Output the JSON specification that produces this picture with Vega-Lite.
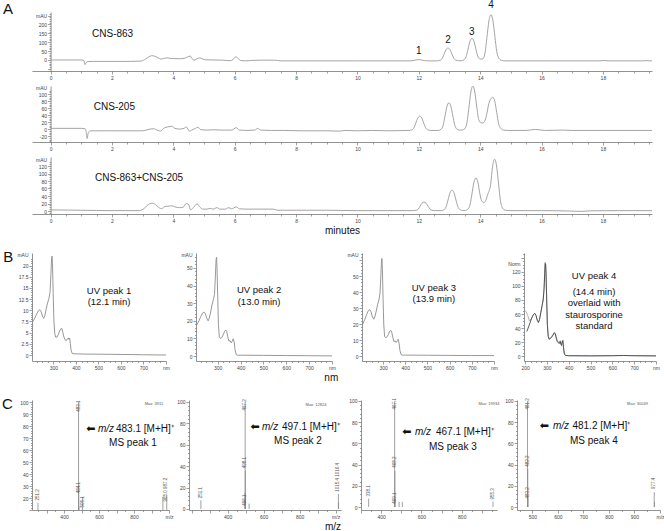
{
  "$schema": "https://vega.github.io/schema/vega-lite/v6.json",
  "background": "white",
  "padding": {"left": 1, "top": 0, "right": 0, "bottom": 0},
  "config": {
    "view": {"stroke": null},
    "font": "Liberation Sans",
    "axis": {"grid": false, "labelFontSize": 5, "labelColor": "#444", "labelFont": "Liberation Sans", "tickColor": "#777", "domainColor": "#777", "domainWidth": 0.8, "tickWidth": 0.7, "tickSize": 3, "labelPadding": 1, "labelOverlap": false, "labelFlush": false, "titleFontSize": 5, "titleFontWeight": "normal", "titleColor": "#444", "titleFont": "Liberation Sans"},
    "text": {"font": "Liberation Sans", "color": "#111"},
    "title": {"font": "Liberation Sans", "fontWeight": "normal", "color": "#111"}
  },
  "datasets": {
    "A1": [{"t":0,"v":0},{"t":0.5,"v":0},{"t":1.0,"v":0},{"t":1.08,"v":-2},{"t":1.12,"v":-26},{"t":1.16,"v":-14},{"t":1.22,"v":-9},{"t":1.4,"v":-8},{"t":2.0,"v":-8},{"t":2.6,"v":-8},{"t":2.95,"v":-6},{"t":3.1,"v":6},{"t":3.2,"v":18},{"t":3.3,"v":24},{"t":3.4,"v":21},{"t":3.5,"v":12},{"t":3.6,"v":5},{"t":3.7,"v":9},{"t":3.8,"v":12},{"t":3.9,"v":9},{"t":4.0,"v":8},{"t":4.2,"v":7},{"t":4.35,"v":9},{"t":4.45,"v":16},{"t":4.55,"v":22},{"t":4.62,"v":6},{"t":4.67,"v":-2},{"t":4.75,"v":5},{"t":4.85,"v":12},{"t":4.95,"v":6},{"t":5.05,"v":1},{"t":5.3,"v":0},{"t":5.6,"v":-1},{"t":5.85,"v":-4},{"t":5.95,"v":3},{"t":6.03,"v":18},{"t":6.1,"v":10},{"t":6.2,"v":-3},{"t":6.35,"v":-5},{"t":6.6,"v":-2},{"t":6.9,"v":-1},{"t":7.3,"v":-1},{"t":7.5,"v":-5},{"t":8.0,"v":-5},{"t":9.0,"v":-5},{"t":10.0,"v":-5},{"t":11.0,"v":-5},{"t":11.65,"v":-5},{"t":11.74,"v":-4.7},{"t":11.81,"v":-3.7},{"t":11.87,"v":-1.5},{"t":11.935,"v":1},{"t":12.0,"v":2},{"t":12.065,"v":1},{"t":12.13,"v":-1.5},{"t":12.19,"v":-3.6},{"t":12.26,"v":-4.6},{"t":12.35,"v":-5},{"t":12.6,"v":-5},{"t":12.69,"v":-2},{"t":12.76,"v":8},{"t":12.82,"v":31},{"t":12.885,"v":57},{"t":12.95,"v":67},{"t":13.015,"v":58},{"t":13.08,"v":33},{"t":13.14,"v":10},{"t":13.21,"v":-1},{"t":13.3,"v":-4},{"t":13.38,"v":-4},{"t":13.47,"v":1},{"t":13.54,"v":18},{"t":13.6,"v":58},{"t":13.665,"v":104},{"t":13.73,"v":122},{"t":13.795,"v":106},{"t":13.86,"v":62},{"t":13.92,"v":22},{"t":13.99,"v":6},{"t":14.05,"v":5},{"t":14.1,"v":8},{"t":14.16,"v":42},{"t":14.22,"v":125},{"t":14.285,"v":219},{"t":14.35,"v":255},{"t":14.415,"v":222},{"t":14.48,"v":132},{"t":14.54,"v":48},{"t":14.61,"v":10},{"t":14.7,"v":-2},{"t":14.8,"v":-5},{"t":15.5,"v":-5},{"t":16.5,"v":-5},{"t":17.9,"v":-5},{"t":18.03,"v":-3},{"t":18.2,"v":-5},{"t":19.3,"v":-5},{"t":19.4,"v":-3.5},{"t":19.5,"v":-5},{"t":19.6,"v":-5}],
    "A2": [{"t":0,"v":2},{"t":1.0,"v":2},{"t":1.12,"v":1},{"t":1.16,"v":-8},{"t":1.19,"v":-27},{"t":1.23,"v":-10},{"t":1.3,"v":-5},{"t":2.0,"v":-5},{"t":3.0,"v":-5},{"t":3.15,"v":-2},{"t":3.35,"v":1},{"t":3.5,"v":-4},{"t":3.58,"v":-6},{"t":3.7,"v":3},{"t":3.82,"v":6},{"t":3.95,"v":8},{"t":4.05,"v":2},{"t":4.2,"v":0},{"t":4.35,"v":2},{"t":4.43,"v":6},{"t":4.52,"v":-6},{"t":4.6,"v":-3},{"t":4.72,"v":2},{"t":4.8,"v":5},{"t":4.9,"v":-2},{"t":5.1,"v":-3},{"t":5.3,"v":-2},{"t":5.6,"v":-3},{"t":5.9,"v":-3},{"t":6.05,"v":4},{"t":6.15,"v":-3},{"t":6.4,"v":-4},{"t":6.65,"v":-3},{"t":6.75,"v":2},{"t":6.85,"v":-3},{"t":7.2,"v":-4},{"t":7.6,"v":-4},{"t":8.2,"v":-5},{"t":9.0,"v":-5},{"t":9.4,"v":-6},{"t":9.6,"v":-4},{"t":10.0,"v":-5},{"t":10.5,"v":-4},{"t":11.0,"v":-5},{"t":11.68,"v":-4},{"t":11.77,"v":-2.4},{"t":11.84,"v":3.4},{"t":11.9,"v":16.5},{"t":11.965,"v":31},{"t":12.03,"v":37},{"t":12.095,"v":32},{"t":12.16,"v":17},{"t":12.22,"v":4},{"t":12.29,"v":-2},{"t":12.38,"v":-4},{"t":12.63,"v":-4},{"t":12.72,"v":-1},{"t":12.79,"v":10},{"t":12.85,"v":35},{"t":12.915,"v":64},{"t":12.98,"v":75},{"t":13.045,"v":65},{"t":13.11,"v":37},{"t":13.17,"v":12},{"t":13.24,"v":0},{"t":13.33,"v":-3},{"t":13.41,"v":-3},{"t":13.5,"v":1},{"t":13.57,"v":19},{"t":13.63,"v":59},{"t":13.695,"v":105},{"t":13.76,"v":123},{"t":13.825,"v":106},{"t":13.89,"v":63},{"t":13.95,"v":28},{"t":14.02,"v":18},{"t":14.08,"v":17},{"t":14.16,"v":25},{"t":14.22,"v":45},{"t":14.28,"v":72},{"t":14.345,"v":86},{"t":14.41,"v":91},{"t":14.475,"v":80},{"t":14.54,"v":47},{"t":14.6,"v":16},{"t":14.67,"v":2},{"t":14.76,"v":-3},{"t":14.9,"v":-4},{"t":15.5,"v":-4},{"t":15.8,"v":-1},{"t":16.1,"v":-4},{"t":16.7,"v":-3},{"t":17.0,"v":-4},{"t":18.0,"v":-4},{"t":19.6,"v":-4}],
    "A3": [{"t":0,"v":3},{"t":1.0,"v":2},{"t":2.0,"v":1},{"t":2.9,"v":1},{"t":3.05,"v":7},{"t":3.18,"v":17},{"t":3.3,"v":21},{"t":3.42,"v":17},{"t":3.55,"v":8},{"t":3.62,"v":6},{"t":3.72,"v":12},{"t":3.85,"v":13},{"t":3.95,"v":14},{"t":4.05,"v":11},{"t":4.2,"v":9},{"t":4.32,"v":10},{"t":4.42,"v":20},{"t":4.5,"v":17},{"t":4.56,"v":3},{"t":4.65,"v":9},{"t":4.77,"v":19},{"t":4.87,"v":10},{"t":4.95,"v":5},{"t":5.1,"v":5},{"t":5.2,"v":7},{"t":5.3,"v":5},{"t":5.42,"v":9},{"t":5.52,"v":5},{"t":5.7,"v":5},{"t":5.8,"v":9},{"t":5.9,"v":6},{"t":6.05,"v":11},{"t":6.15,"v":6},{"t":6.4,"v":5},{"t":7.25,"v":5},{"t":7.4,"v":2},{"t":8.0,"v":2},{"t":9.0,"v":2},{"t":10.0,"v":1},{"t":11.0,"v":1},{"t":11.82,"v":1},{"t":11.91,"v":1.9},{"t":11.98,"v":5},{"t":12.04,"v":12.5},{"t":12.105,"v":21},{"t":12.17,"v":24},{"t":12.235,"v":21},{"t":12.3,"v":13},{"t":12.36,"v":5.6},{"t":12.43,"v":2.1},{"t":12.52,"v":1.2},{"t":12.73,"v":1},{"t":12.82,"v":3.2},{"t":12.89,"v":11},{"t":12.95,"v":28.5},{"t":13.015,"v":48},{"t":13.08,"v":56},{"t":13.145,"v":49},{"t":13.21,"v":29.6},{"t":13.27,"v":12},{"t":13.34,"v":3.7},{"t":13.43,"v":1.5},{"t":13.51,"v":1.5},{"t":13.6,"v":5},{"t":13.67,"v":16.7},{"t":13.73,"v":44.5},{"t":13.795,"v":76},{"t":13.86,"v":88},{"t":13.925,"v":77},{"t":13.99,"v":46},{"t":14.05,"v":27},{"t":14.12,"v":22},{"t":14.18,"v":28},{"t":14.25,"v":45},{"t":14.34,"v":70},{"t":14.405,"v":119},{"t":14.47,"v":138},{"t":14.535,"v":120},{"t":14.6,"v":72},{"t":14.66,"v":28},{"t":14.73,"v":8},{"t":14.82,"v":2},{"t":15.0,"v":1},{"t":16.0,"v":1},{"t":16.9,"v":0},{"t":17.3,"v":-1},{"t":17.6,"v":0.5},{"t":18.5,"v":1},{"t":19.6,"v":1}],
    "B1": [{"nm":205,"a":7.3},{"nm":210,"a":7.6},{"nm":218,"a":8.3},{"nm":226,"a":9.2},{"nm":234,"a":9.9},{"nm":240,"a":10.1},{"nm":246,"a":9.6},{"nm":252,"a":8.6},{"nm":257,"a":8.2},{"nm":262,"a":8.8},{"nm":268,"a":10.3},{"nm":274,"a":11.6},{"nm":280,"a":12.6},{"nm":285,"a":14},{"nm":289,"a":18},{"nm":292,"a":21.6},{"nm":294,"a":22.1},{"nm":296,"a":20.5},{"nm":299,"a":14},{"nm":302,"a":8},{"nm":306,"a":4.8},{"nm":310,"a":4.0},{"nm":316,"a":4.0},{"nm":322,"a":4.6},{"nm":328,"a":5.4},{"nm":334,"a":5.9},{"nm":338,"a":5.9},{"nm":342,"a":5.0},{"nm":347,"a":4.0},{"nm":352,"a":3.4},{"nm":357,"a":3.2},{"nm":362,"a":3.6},{"nm":366,"a":3.8},{"nm":369,"a":3.5},{"nm":372,"a":3.8},{"nm":375,"a":2.6},{"nm":379,"a":1.0},{"nm":384,"a":0.3},{"nm":400,"a":0.25},{"nm":450,"a":0.2},{"nm":500,"a":0.18},{"nm":550,"a":0.15},{"nm":600,"a":0.12},{"nm":650,"a":0.1},{"nm":700,"a":0.05},{"nm":750,"a":0.02},{"nm":800,"a":0.0}],
    "B2": [{"nm":205,"a":17},{"nm":210,"a":18},{"nm":218,"a":20},{"nm":226,"a":22.5},{"nm":234,"a":24.5},{"nm":240,"a":25},{"nm":246,"a":24},{"nm":252,"a":21.5},{"nm":258,"a":20},{"nm":263,"a":21.5},{"nm":269,"a":25},{"nm":275,"a":29},{"nm":281,"a":32},{"nm":286,"a":35},{"nm":290,"a":46},{"nm":293,"a":55},{"nm":295,"a":56},{"nm":297,"a":50},{"nm":300,"a":34},{"nm":303,"a":18},{"nm":307,"a":11},{"nm":312,"a":10},{"nm":318,"a":10.5},{"nm":324,"a":12},{"nm":330,"a":14},{"nm":335,"a":14.8},{"nm":339,"a":14},{"nm":344,"a":11},{"nm":349,"a":8.5},{"nm":354,"a":8.8},{"nm":359,"a":7.5},{"nm":364,"a":8.5},{"nm":368,"a":9.8},{"nm":372,"a":8},{"nm":376,"a":3.5},{"nm":381,"a":0.8},{"nm":386,"a":0.5},{"nm":400,"a":0.5},{"nm":500,"a":0.4},{"nm":600,"a":0.3},{"nm":700,"a":0.2},{"nm":800,"a":0.1}],
    "B3": [{"nm":205,"a":19},{"nm":210,"a":20.5},{"nm":218,"a":23},{"nm":226,"a":26},{"nm":234,"a":28.5},{"nm":240,"a":29},{"nm":246,"a":27.5},{"nm":252,"a":24.5},{"nm":258,"a":23},{"nm":263,"a":24.5},{"nm":269,"a":28},{"nm":275,"a":32},{"nm":281,"a":35},{"nm":286,"a":39},{"nm":290,"a":50},{"nm":293,"a":60},{"nm":295,"a":61},{"nm":297,"a":54},{"nm":300,"a":36},{"nm":303,"a":20},{"nm":307,"a":12},{"nm":312,"a":11.5},{"nm":318,"a":12},{"nm":324,"a":13.5},{"nm":330,"a":15.5},{"nm":335,"a":16},{"nm":339,"a":15},{"nm":344,"a":11.5},{"nm":349,"a":9},{"nm":354,"a":9.5},{"nm":359,"a":8.5},{"nm":364,"a":9.5},{"nm":368,"a":10.5},{"nm":372,"a":8},{"nm":376,"a":3.5},{"nm":381,"a":1},{"nm":386,"a":0.6},{"nm":400,"a":0.6},{"nm":500,"a":0.5},{"nm":600,"a":0.4},{"nm":700,"a":0.3},{"nm":800,"a":0.3}],
    "B4": [{"s":"std","nm":200,"a":65},{"s":"std","nm":205,"a":63},{"s":"std","nm":212,"a":58},{"s":"std","nm":220,"a":50},{"s":"std","nm":228,"a":53},{"s":"std","nm":236,"a":58},{"s":"std","nm":244,"a":61},{"s":"std","nm":250,"a":58},{"s":"std","nm":256,"a":51},{"s":"std","nm":261,"a":48},{"s":"std","nm":266,"a":52},{"s":"std","nm":272,"a":62},{"s":"std","nm":278,"a":72},{"s":"std","nm":283,"a":82},{"s":"std","nm":287,"a":98},{"s":"std","nm":290,"a":120},{"s":"std","nm":292,"a":134},{"s":"std","nm":294,"a":132},{"s":"std","nm":296,"a":120},{"s":"std","nm":299,"a":82},{"s":"std","nm":302,"a":46},{"s":"std","nm":306,"a":29},{"s":"std","nm":310,"a":25},{"s":"std","nm":316,"a":26},{"s":"std","nm":322,"a":28},{"s":"std","nm":328,"a":31},{"s":"std","nm":334,"a":34},{"s":"std","nm":338,"a":33},{"s":"std","nm":342,"a":28},{"s":"std","nm":347,"a":22},{"s":"std","nm":352,"a":20},{"s":"std","nm":357,"a":19},{"s":"std","nm":361,"a":22},{"s":"std","nm":364,"a":18},{"s":"std","nm":367,"a":16},{"s":"std","nm":370,"a":21},{"s":"std","nm":373,"a":23},{"s":"std","nm":376,"a":13},{"s":"std","nm":380,"a":3},{"s":"std","nm":385,"a":1},{"s":"std","nm":400,"a":0.6},{"s":"std","nm":500,"a":0.4},{"s":"std","nm":600,"a":0.6},{"s":"std","nm":650,"a":1},{"s":"std","nm":700,"a":0.6},{"s":"std","nm":800,"a":0.4},
      {"s":"peak","nm":208,"a":35},{"s":"peak","nm":214,"a":40},{"s":"peak","nm":222,"a":47},{"s":"peak","nm":230,"a":54},{"s":"peak","nm":238,"a":59},{"s":"peak","nm":244,"a":61},{"s":"peak","nm":250,"a":58},{"s":"peak","nm":256,"a":51},{"s":"peak","nm":261,"a":48},{"s":"peak","nm":266,"a":52},{"s":"peak","nm":272,"a":62},{"s":"peak","nm":278,"a":72},{"s":"peak","nm":283,"a":80},{"s":"peak","nm":287,"a":95},{"s":"peak","nm":290,"a":118},{"s":"peak","nm":292,"a":132},{"s":"peak","nm":294,"a":131},{"s":"peak","nm":296,"a":118},{"s":"peak","nm":299,"a":80},{"s":"peak","nm":302,"a":45},{"s":"peak","nm":306,"a":28},{"s":"peak","nm":310,"a":24},{"s":"peak","nm":316,"a":25},{"s":"peak","nm":322,"a":27},{"s":"peak","nm":328,"a":30},{"s":"peak","nm":334,"a":33},{"s":"peak","nm":338,"a":32},{"s":"peak","nm":342,"a":27},{"s":"peak","nm":347,"a":21},{"s":"peak","nm":352,"a":19},{"s":"peak","nm":357,"a":18},{"s":"peak","nm":361,"a":21},{"s":"peak","nm":364,"a":17},{"s":"peak","nm":367,"a":15},{"s":"peak","nm":370,"a":20},{"s":"peak","nm":373,"a":22},{"s":"peak","nm":376,"a":12},{"s":"peak","nm":380,"a":3},{"s":"peak","nm":385,"a":1},{"s":"peak","nm":400,"a":0.5},{"s":"peak","nm":500,"a":0.3},{"s":"peak","nm":600,"a":0.5},{"s":"peak","nm":650,"a":0.8},{"s":"peak","nm":700,"a":0.5},{"s":"peak","nm":800,"a":0.3}],
    "C1": [{"mz":251.2,"i":16},{"mz":483.1,"i":100},{"mz":484.1,"i":31},{"mz":485.1,"i":13},{"mz":505.1,"i":21},{"mz":965.0,"i":21},{"mz":987.2,"i":22}],
    "C2": [{"mz":251.1,"i":8},{"mz":496.1,"i":15},{"mz":497.2,"i":100},{"mz":498.1,"i":36},{"mz":499.1,"i":12},{"mz":519.1,"i":5},{"mz":1015.4,"i":14},{"mz":1016.4,"i":6}],
    "C3": [{"mz":338.1,"i":8},{"mz":467.1,"i":100},{"mz":468.2,"i":34},{"mz":469.1,"i":8},{"mz":489.1,"i":5},{"mz":505.1,"i":5},{"mz":955.3,"i":5}],
    "C4": [{"mz":481.2,"i":100},{"mz":482.2,"i":36},{"mz":483.2,"i":9},{"mz":977.4,"i":14},{"mz":978.4,"i":5}]
  },
  "spacing": 14,
  "vconcat": [
    {
      "spacing": 15,
      "bounds": "flush",
      "vconcat": [
        {
          "width": 620, "height": 59,
          "layer": [
            {"data": {"name": "A1"}, "mark": {"type": "line", "color": "#9a9a9a", "strokeWidth": 0.9, "interpolate": "monotone", "clip": true},
             "encoding": {
               "x": {"field": "t", "type": "quantitative", "scale": {"domain": [-0.606, 19.6], "nice": false, "zero": false},
                     "axis": {"title": null, "tickCount": 400, "labelOverlap": false, "values": [0,0.5,1,1.5,2,2.5,3,3.5,4,4.5,5,5.5,6,6.5,7,7.5,8,8.5,9,9.5,10,10.5,11,11.5,12,12.5,13,13.5,14,14.5,15,15.5,16,16.5,17,17.5,18,18.5,19,19.5], "labelExpr": "datum.value % 2 === 0 ? '' + datum.value : ''", "tickSize": {"condition": {"test": "datum.value % 2 === 0", "value": 3}, "value": 2}}},
               "y": {"field": "v", "type": "quantitative", "scale": {"domain": [-62, 270], "nice": false, "zero": false},
                     "axis": {"title": "mAU", "tickCount": 400, "labelOverlap": false, "titleAngle": 0, "titleAlign": "right", "titleBaseline": "middle", "titleX": -4, "titleY": 3, "offset": -18.6, "values": [-60,-50,-40,-30,-20,-10,0,10,20,30,40,50,60,70,80,90,100,110,120,130,140,150,160,170,180,190,200,210,220,230,240,250,260], "labelExpr": "datum.value % 50 === 0 && datum.value >= 0 && datum.value <= 200 ? '' + datum.value : ''", "tickSize": {"condition": {"test": "datum.value % 50 === 0", "value": 3}, "value": 1.5}}}
             }},
            {"data": {"values": [{"t": 1.35, "v": 129, "s": "CNS-863"}]}, "mark": {"type": "text", "align": "left", "baseline": "alphabetic", "fontSize": 10},
             "encoding": {"x": {"field": "t", "type": "quantitative"}, "y": {"field": "v", "type": "quantitative"}, "text": {"field": "s"}}},
            {"data": {"values": [{"t": 12.0, "v": 34, "s": "1"}, {"t": 12.95, "v": 96, "s": "2"}, {"t": 13.73, "v": 138, "s": "3"}, {"t": 14.35, "v": 292, "s": "4"}]}, "mark": {"type": "text", "align": "center", "baseline": "alphabetic", "fontSize": 10},
             "encoding": {"x": {"field": "t", "type": "quantitative"}, "y": {"field": "v", "type": "quantitative"}, "text": {"field": "s"}}},
            {"data": {"values": [{"t": -1.55, "v": 258, "s": "A"}]}, "mark": {"type": "text", "align": "left", "baseline": "alphabetic", "fontSize": 15},
             "encoding": {"x": {"field": "t", "type": "quantitative"}, "y": {"field": "v", "type": "quantitative"}, "text": {"field": "s"}}}
          ]
        },
        {
          "width": 620, "height": 56,
          "layer": [
            {"data": {"name": "A2"}, "mark": {"type": "line", "color": "#9a9a9a", "strokeWidth": 0.9, "interpolate": "monotone", "clip": true},
             "encoding": {
               "x": {"field": "t", "type": "quantitative", "scale": {"domain": [-0.606, 19.6], "nice": false, "zero": false},
                     "axis": {"title": null, "tickCount": 400, "labelOverlap": false, "values": [0,0.5,1,1.5,2,2.5,3,3.5,4,4.5,5,5.5,6,6.5,7,7.5,8,8.5,9,9.5,10,10.5,11,11.5,12,12.5,13,13.5,14,14.5,15,15.5,16,16.5,17,17.5,18,18.5,19,19.5], "labelExpr": "datum.value % 2 === 0 ? '' + datum.value : ''", "tickSize": {"condition": {"test": "datum.value % 2 === 0", "value": 3}, "value": 2}}},
               "y": {"field": "v", "type": "quantitative", "scale": {"domain": [-37, 123], "nice": false, "zero": false},
                     "axis": {"title": "mAU", "tickCount": 400, "labelOverlap": false, "titleAngle": 0, "titleAlign": "right", "titleBaseline": "middle", "titleX": -4, "titleY": 1, "offset": -18.6, "values": [-35,-30,-25,-20,-15,-10,-5,0,5,10,15,20,25,30,35,40,45,50,55,60,65,70,75,80,85,90,95,100,105,110], "labelExpr": "datum.value % 20 === 0 && datum.value <= 100 ? '' + datum.value : ''", "tickSize": {"condition": {"test": "datum.value % 20 === 0", "value": 3}, "value": 1.5}}}
             }},
            {"data": {"values": [{"t": 1.41, "v": 54, "s": "CNS-205"}]}, "mark": {"type": "text", "align": "left", "baseline": "alphabetic", "fontSize": 10},
             "encoding": {"x": {"field": "t", "type": "quantitative"}, "y": {"field": "v", "type": "quantitative"}, "text": {"field": "s"}}}
          ]
        },
        {
          "width": 620, "height": 57,
          "layer": [
            {"data": {"name": "A3"}, "mark": {"type": "line", "color": "#9a9a9a", "strokeWidth": 0.9, "interpolate": "monotone", "clip": true},
             "encoding": {
               "x": {"field": "t", "type": "quantitative", "scale": {"domain": [-0.606, 19.6], "nice": false, "zero": false},
                     "axis": {"title": "minutes", "tickCount": 400, "labelOverlap": false, "titleFontSize": 10, "titleColor": "#111", "titlePadding": 2, "values": [0,0.5,1,1.5,2,2.5,3,3.5,4,4.5,5,5.5,6,6.5,7,7.5,8,8.5,9,9.5,10,10.5,11,11.5,12,12.5,13,13.5,14,14.5,15,15.5,16,16.5,17,17.5,18,18.5,19,19.5], "labelExpr": "datum.value % 2 === 0 ? '' + datum.value : ''", "tickSize": {"condition": {"test": "datum.value % 2 === 0", "value": 3}, "value": 2}}},
               "y": {"field": "v", "type": "quantitative", "scale": {"domain": [-8, 144], "nice": false, "zero": false},
                     "axis": {"title": "mAU", "tickCount": 400, "labelOverlap": false, "titleAngle": 0, "titleAlign": "right", "titleBaseline": "middle", "titleX": -4, "titleY": 2, "offset": -18.6, "values": [-5,0,5,10,15,20,25,30,35,40,45,50,55,60,65,70,75,80,85,90,95,100,105,110,115,120,125,130], "labelExpr": "datum.value % 20 === 0 && datum.value <= 120 ? '' + datum.value : ''", "tickSize": {"condition": {"test": "datum.value % 20 === 0", "value": 3}, "value": 1.5}}}
             }},
            {"data": {"values": [{"t": 1.45, "v": 80, "s": "CNS-863+CNS-205"}]}, "mark": {"type": "text", "align": "left", "baseline": "alphabetic", "fontSize": 10},
             "encoding": {"x": {"field": "t", "type": "quantitative"}, "y": {"field": "v", "type": "quantitative"}, "text": {"field": "s"}}}
          ]
        }
      ]
    },
    {
      "spacing": 30,
      "bounds": "flush",
      "title": {"text": "nm", "orient": "bottom", "anchor": "middle", "fontSize": 10, "offset": 3},
      "hconcat": [
        {
          "width": 134, "height": 108,
          "layer": [
            {"data": {"name": "B1"}, "mark": {"type": "line", "color": "#8c8c8c", "strokeWidth": 0.9, "clip": true},
             "encoding": {
               "x": {"field": "nm", "type": "quantitative", "scale": {"domain": [205, 800], "nice": false, "zero": false},
                     "axis": {"title": null, "tickCount": 400, "labelOverlap": false, "values": [225,250,275,300,325,350,375,400,425,450,475,500,525,550,575,600,625,650,675,700,725,750,775,800], "labelExpr": "datum.value === 800 ? 'nm' : (datum.value % 100 === 0 ? '' + datum.value : '')", "tickSize": {"condition": {"test": "datum.value % 100 === 0", "value": 3}, "value": 1.5}}},
               "y": {"field": "a", "type": "quantitative", "scale": {"domain": [-1.34, 22.8], "nice": false, "zero": false},
                     "axis": {"title": "mAU", "tickCount": 400, "labelOverlap": false, "titleAngle": 0, "titleAlign": "right", "titleBaseline": "middle", "titleX": -4, "titleY": 1, "values": [0,0.5,1,1.5,2,2.5,3,3.5,4,4.5,5,5.5,6,6.5,7,7.5,8,8.5,9,9.5,10,10.5,11,11.5,12,12.5,13,13.5,14,14.5,15,15.5,16,16.5,17,17.5,18,18.5,19,19.5,20,20.5,21,21.5], "labelExpr": "datum.value % 2.5 === 0 && datum.value <= 20 ? '' + datum.value : ''", "tickSize": {"condition": {"test": "datum.value % 2.5 === 0", "value": 3}, "value": 1.5}}}
             }},
            {"data": {"values": [{"nm": 547, "a": 14.3, "s": "UV peak 1"}, {"nm": 547, "a": 11.8, "s": "(12.1 min)"}]}, "mark": {"type": "text", "align": "center", "baseline": "middle", "fontSize": 9.5},
             "encoding": {"x": {"field": "nm", "type": "quantitative"}, "y": {"field": "a", "type": "quantitative"}, "text": {"field": "s"}}},
            {"data": {"values": [{"nm": 77, "a": 20.8, "s": "B"}]}, "mark": {"type": "text", "align": "left", "baseline": "alphabetic", "fontSize": 15},
             "encoding": {"x": {"field": "nm", "type": "quantitative"}, "y": {"field": "a", "type": "quantitative"}, "text": {"field": "s"}}}
          ]
        },
        {
          "width": 136, "height": 108,
          "layer": [
            {"data": {"name": "B2"}, "mark": {"type": "line", "color": "#8c8c8c", "strokeWidth": 0.9, "clip": true},
             "encoding": {
               "x": {"field": "nm", "type": "quantitative", "scale": {"domain": [205, 800], "nice": false, "zero": false},
                     "axis": {"title": null, "tickCount": 400, "labelOverlap": false, "values": [225,250,275,300,325,350,375,400,425,450,475,500,525,550,575,600,625,650,675,700,725,750,775,800], "labelExpr": "datum.value === 800 ? 'nm' : (datum.value % 100 === 0 ? '' + datum.value : '')", "tickSize": {"condition": {"test": "datum.value % 100 === 0", "value": 3}, "value": 1.5}}},
               "y": {"field": "a", "type": "quantitative", "scale": {"domain": [-2.8, 58.5], "nice": false, "zero": false},
                     "axis": {"title": "mAU", "tickCount": 400, "labelOverlap": false, "titleAngle": 0, "titleAlign": "right", "titleBaseline": "middle", "titleX": -4, "titleY": 1, "values": [0,2,4,6,8,10,12,14,16,18,20,22,24,26,28,30,32,34,36,38,40,42,44,46,48,50,52,54,56], "labelExpr": "datum.value % 10 === 0 && datum.value <= 50 ? '' + datum.value : ''", "tickSize": {"condition": {"test": "datum.value % 10 === 0", "value": 3}, "value": 1.5}}}
             }},
            {"data": {"values": [{"nm": 481, "a": 37.5, "s": "UV peak 2"}, {"nm": 481, "a": 30.7, "s": "(13.0 min)"}]}, "mark": {"type": "text", "align": "center", "baseline": "middle", "fontSize": 9.5},
             "encoding": {"x": {"field": "nm", "type": "quantitative"}, "y": {"field": "a", "type": "quantitative"}, "text": {"field": "s"}}}
          ]
        },
        {
          "width": 132, "height": 108,
          "layer": [
            {"data": {"name": "B3"}, "mark": {"type": "line", "color": "#8c8c8c", "strokeWidth": 0.9, "clip": true},
             "encoding": {
               "x": {"field": "nm", "type": "quantitative", "scale": {"domain": [205, 800], "nice": false, "zero": false},
                     "axis": {"title": null, "tickCount": 400, "labelOverlap": false, "values": [225,250,275,300,325,350,375,400,425,450,475,500,525,550,575,600,625,650,675,700,725,750,775,800], "labelExpr": "datum.value === 800 ? 'nm' : (datum.value % 100 === 0 ? '' + datum.value : '')", "tickSize": {"condition": {"test": "datum.value % 100 === 0", "value": 3}, "value": 1.5}}},
               "y": {"field": "a", "type": "quantitative", "scale": {"domain": [-3.1, 64.4], "nice": false, "zero": false},
                     "axis": {"title": "mAU", "tickCount": 400, "labelOverlap": false, "titleAngle": 0, "titleAlign": "right", "titleBaseline": "middle", "titleX": -4, "titleY": 1, "values": [0,2,4,6,8,10,12,14,16,18,20,22,24,26,28,30,32,34,36,38,40,42,44,46,48,50,52,54,56,58,60,62,64], "labelExpr": "datum.value % 10 === 0 && datum.value <= 50 ? '' + datum.value : ''", "tickSize": {"condition": {"test": "datum.value % 10 === 0", "value": 3}, "value": 1.5}}}
             }},
            {"data": {"values": [{"nm": 529, "a": 42.5, "s": "UV peak 3"}, {"nm": 529, "a": 35.6, "s": "(13.9 min)"}]}, "mark": {"type": "text", "align": "center", "baseline": "middle", "fontSize": 9.5},
             "encoding": {"x": {"field": "nm", "type": "quantitative"}, "y": {"field": "a", "type": "quantitative"}, "text": {"field": "s"}}}
          ]
        },
        {
          "width": 132, "height": 108,
          "layer": [
            {"data": {"name": "B4"}, "mark": {"type": "line", "strokeWidth": 0.9, "clip": true},
             "encoding": {
               "x": {"field": "nm", "type": "quantitative", "scale": {"domain": [195, 800], "nice": false, "zero": false},
                     "axis": {"title": null, "tickCount": 400, "labelOverlap": false, "values": [200,225,250,275,300,325,350,375,400,425,450,475,500,525,550,575,600,625,650,675,700,725,750,775,800], "labelExpr": "datum.value === 800 ? 'nm' : (datum.value % 100 === 0 ? '' + datum.value : '')", "tickSize": {"condition": {"test": "datum.value % 100 === 0", "value": 3}, "value": 1.5}}},
               "y": {"field": "a", "type": "quantitative", "scale": {"domain": [-7, 147], "nice": false, "zero": false},
                     "axis": {"title": "Norm", "tickCount": 400, "labelOverlap": false, "titleAngle": 0, "titleAlign": "right", "titleBaseline": "middle", "titleX": -4, "titleY": 10, "values": [0,5,10,15,20,25,30,35,40,45,50,55,60,65,70,75,80,85,90,95,100,105,110,115,120,125,130,135,140,145], "labelExpr": "datum.value % 20 === 0 && datum.value <= 120 ? '' + datum.value : ''", "tickSize": {"condition": {"test": "datum.value % 20 === 0", "value": 3}, "value": 1.5}}},
               "color": {"field": "s", "type": "nominal", "scale": {"domain": ["std", "peak"], "range": ["#a8a8a8", "#4a4a4a"]}, "legend": null},
               "order": {"field": "nm", "type": "quantitative"}
             }},
            {"data": {"values": [{"nm": 516, "a": 113.6, "s": "UV peak 4"}, {"nm": 516, "a": 91.9, "s": "(14.4 min)"}, {"nm": 516, "a": 75.7, "s": "overlaid with"}, {"nm": 516, "a": 59.3, "s": "staurosporine"}, {"nm": 516, "a": 42.9, "s": "standard"}]}, "mark": {"type": "text", "align": "center", "baseline": "middle", "fontSize": 9.5},
             "encoding": {"x": {"field": "nm", "type": "quantitative"}, "y": {"field": "a", "type": "quantitative"}, "text": {"field": "s"}}}
          ]
        }
      ]
    },
    {
      "spacing": 20,
      "bounds": "flush",
      "title": {"text": "m/z", "orient": "bottom", "anchor": "middle", "fontSize": 10, "offset": 3},
      "hconcat": [
        {
          "width": 137, "height": 110,
          "layer": [
            {"data": {"name": "C1"}, "mark": {"type": "rule", "color": "#888", "strokeWidth": 0.8, "clip": true},
             "encoding": {
               "x": {"field": "mz", "type": "quantitative", "scale": {"domain": [217, 1000], "nice": false, "zero": false},
                     "axis": {"title": null, "tickCount": 400, "labelOverlap": false, "values": [250,300,350,400,450,500,550,600,650,700,750,800,850,900,950,1000], "labelExpr": "datum.value === 1000 ? 'm/z' : (datum.value % 200 === 0 ? '' + datum.value : '')", "tickSize": {"condition": {"test": "datum.value % 100 === 0", "value": 3}, "value": 1.5}}},
               "y": {"field": "i", "type": "quantitative", "scale": {"domain": [10, 101.7], "nice": false, "zero": false},
                     "axis": {"title": null, "tickCount": 400, "labelOverlap": false, "values": [10,12,14,16,18,20,22,24,26,28,30,32,34,36,38,40,42,44,46,48,50,52,54,56,58,60,62,64,66,68,70,72,74,76,78,80,82,84,86,88,90,92,94,96,98,100], "labelExpr": "datum.value % 10 === 0 && datum.value >= 20 ? '' + datum.value : ''", "tickSize": {"condition": {"test": "datum.value % 10 === 0", "value": 3}, "value": 1.5}}},
               "y2": {"datum": 0}
             }},
            {"data": {"values": [{"mz": 251.2, "i": 18, "s": "251.2"}, {"mz": 483.1, "i": 92, "s": "483.1"}, {"mz": 483.1, "i": 24, "s": "484.1"}, {"mz": 510, "i": 12, "s": "505.1"}, {"mz": 980, "i": 17, "s": "965.0 987.2"}]}, "mark": {"type": "text", "angle": 270, "align": "left", "baseline": "middle", "fontSize": 4.5, "color": "#555"},
             "encoding": {"x": {"field": "mz", "type": "quantitative"}, "y": {"field": "i", "type": "quantitative"}, "text": {"field": "s"}}},
            {"data": {"values": [{"mz": 554, "i": 77.5, "s": "⬅"}]}, "mark": {"type": "text", "align": "center", "baseline": "middle", "fontSize": 11, "font": "DejaVu Sans"},
             "encoding": {"x": {"field": "mz", "type": "quantitative"}, "y": {"field": "i", "type": "quantitative"}, "text": {"field": "s"}}},
            {"data": {"values": [{"mz": 594, "i": 77.5, "s": "m/z"}]}, "mark": {"type": "text", "align": "left", "baseline": "middle", "fontSize": 10, "fontStyle": "italic"},
             "encoding": {"x": {"field": "mz", "type": "quantitative"}, "y": {"field": "i", "type": "quantitative"}, "text": {"field": "s"}}},
            {"data": {"values": [{"mz": 697, "i": 77.5, "s": "483.1 [M+H]⁺"}]}, "mark": {"type": "text", "align": "left", "baseline": "middle", "fontSize": 10},
             "encoding": {"x": {"field": "mz", "type": "quantitative"}, "y": {"field": "i", "type": "quantitative"}, "text": {"field": "s"}}},
            {"data": {"values": [{"mz": 794, "i": 65.8, "s": "MS peak 1"}]}, "mark": {"type": "text", "align": "center", "baseline": "middle", "fontSize": 10},
             "encoding": {"x": {"field": "mz", "type": "quantitative"}, "y": {"field": "i", "type": "quantitative"}, "text": {"field": "s"}}},
            {"data": {"values": [{"mz": 914, "i": 98, "s": "Max: 3911"}]}, "mark": {"type": "text", "align": "center", "baseline": "middle", "fontSize": 4, "color": "#555"},
             "encoding": {"x": {"field": "mz", "type": "quantitative"}, "y": {"field": "i", "type": "quantitative"}, "text": {"field": "s"}}},
            {"data": {"values": [{"mz": 45, "i": 94, "s": "C"}]}, "mark": {"type": "text", "align": "left", "baseline": "alphabetic", "fontSize": 15},
             "encoding": {"x": {"field": "mz", "type": "quantitative"}, "y": {"field": "i", "type": "quantitative"}, "text": {"field": "s"}}}
          ]
        },
        {
          "width": 152, "height": 110,
          "layer": [
            {"data": {"name": "C2"}, "mark": {"type": "rule", "color": "#888", "strokeWidth": 0.8, "clip": true},
             "encoding": {
               "x": {"field": "mz", "type": "quantitative", "scale": {"domain": [185, 1030], "nice": false, "zero": false},
                     "axis": {"title": null, "tickCount": 400, "labelOverlap": false, "values": [200,250,300,350,400,450,500,550,600,650,700,750,800,850,900,950,1000], "labelExpr": "datum.value === 1000 ? 'm/z' : (datum.value % 200 === 0 && datum.value >= 400 ? '' + datum.value : '')", "tickSize": {"condition": {"test": "datum.value % 100 === 0", "value": 3}, "value": 1.5}}},
               "y": {"field": "i", "type": "quantitative", "scale": {"domain": [-1, 101.8], "nice": false, "zero": false},
                     "axis": {"title": null, "tickCount": 400, "labelOverlap": false, "values": [0,4,8,12,16,20,24,28,32,36,40,44,48,52,56,60,64,68,72,76,80,84,88,92,96,100], "labelExpr": "datum.value % 20 === 0 ? '' + datum.value : ''", "tickSize": {"condition": {"test": "datum.value % 20 === 0", "value": 3}, "value": 1.5}}},
               "y2": {"datum": 0}
             }},
            {"data": {"values": [{"mz": 251.1, "i": 10, "s": "251.1"}, {"mz": 497.2, "i": 92, "s": "497.2"}, {"mz": 497.2, "i": 38, "s": "498.1"}, {"mz": 497.2, "i": 3, "s": "496.1"}, {"mz": 1015.4, "i": 16, "s": "1015.4 1016.4"}]}, "mark": {"type": "text", "angle": 270, "align": "left", "baseline": "middle", "fontSize": 4.5, "color": "#555"},
             "encoding": {"x": {"field": "mz", "type": "quantitative"}, "y": {"field": "i", "type": "quantitative"}, "text": {"field": "s"}}},
            {"data": {"values": [{"mz": 552, "i": 77, "s": "⬅"}]}, "mark": {"type": "text", "align": "center", "baseline": "middle", "fontSize": 11, "font": "DejaVu Sans"},
             "encoding": {"x": {"field": "mz", "type": "quantitative"}, "y": {"field": "i", "type": "quantitative"}, "text": {"field": "s"}}},
            {"data": {"values": [{"mz": 591, "i": 77, "s": "m/z"}]}, "mark": {"type": "text", "align": "left", "baseline": "middle", "fontSize": 10, "fontStyle": "italic"},
             "encoding": {"x": {"field": "mz", "type": "quantitative"}, "y": {"field": "i", "type": "quantitative"}, "text": {"field": "s"}}},
            {"data": {"values": [{"mz": 702, "i": 77, "s": "497.1 [M+H]⁺"}]}, "mark": {"type": "text", "align": "left", "baseline": "middle", "fontSize": 10},
             "encoding": {"x": {"field": "mz", "type": "quantitative"}, "y": {"field": "i", "type": "quantitative"}, "text": {"field": "s"}}},
            {"data": {"values": [{"mz": 791, "i": 63.6, "s": "MS peak 2"}]}, "mark": {"type": "text", "align": "center", "baseline": "middle", "fontSize": 10},
             "encoding": {"x": {"field": "mz", "type": "quantitative"}, "y": {"field": "i", "type": "quantitative"}, "text": {"field": "s"}}},
            {"data": {"values": [{"mz": 891, "i": 97, "s": "Max: 12824"}]}, "mark": {"type": "text", "align": "center", "baseline": "middle", "fontSize": 4, "color": "#555"},
             "encoding": {"x": {"field": "mz", "type": "quantitative"}, "y": {"field": "i", "type": "quantitative"}, "text": {"field": "s"}}}
          ]
        },
        {
          "width": 136, "height": 110,
          "layer": [
            {"data": {"name": "C3"}, "mark": {"type": "rule", "color": "#888", "strokeWidth": 0.8, "clip": true},
             "encoding": {
               "x": {"field": "mz", "type": "quantitative", "scale": {"domain": [300, 975], "nice": false, "zero": false},
                     "axis": {"title": null, "tickCount": 400, "labelOverlap": false, "values": [300,350,400,450,500,550,600,650,700,750,800,850,900,950], "labelExpr": "datum.value % 200 === 0 ? '' + datum.value : ''", "tickSize": {"condition": {"test": "datum.value % 100 === 0", "value": 3}, "value": 1.5}}},
               "y": {"field": "i", "type": "quantitative", "scale": {"domain": [-2.8, 100.9], "nice": false, "zero": false},
                     "axis": {"title": null, "tickCount": 400, "labelOverlap": false, "values": [0,4,8,12,16,20,24,28,32,36,40,44,48,52,56,60,64,68,72,76,80,84,88,92,96,100], "labelExpr": "datum.value % 20 === 0 ? '' + datum.value : ''", "tickSize": {"condition": {"test": "datum.value % 20 === 0", "value": 3}, "value": 1.5}}},
               "y2": {"datum": 0}
             }},
            {"data": {"values": [{"mz": 338.1, "i": 10, "s": "338.1"}, {"mz": 467.1, "i": 92, "s": "467.1"}, {"mz": 467.1, "i": 37, "s": "468.2"}, {"mz": 467.1, "i": 3, "s": "469.1"}, {"mz": 955.3, "i": 7, "s": "955.3"}]}, "mark": {"type": "text", "angle": 270, "align": "left", "baseline": "middle", "fontSize": 4.5, "color": "#555"},
             "encoding": {"x": {"field": "mz", "type": "quantitative"}, "y": {"field": "i", "type": "quantitative"}, "text": {"field": "s"}}},
            {"data": {"values": [{"mz": 528, "i": 70.8, "s": "⬅"}]}, "mark": {"type": "text", "align": "center", "baseline": "middle", "fontSize": 11, "font": "DejaVu Sans"},
             "encoding": {"x": {"field": "mz", "type": "quantitative"}, "y": {"field": "i", "type": "quantitative"}, "text": {"field": "s"}}},
            {"data": {"values": [{"mz": 568, "i": 70.8, "s": "m/z"}]}, "mark": {"type": "text", "align": "left", "baseline": "middle", "fontSize": 10, "fontStyle": "italic"},
             "encoding": {"x": {"field": "mz", "type": "quantitative"}, "y": {"field": "i", "type": "quantitative"}, "text": {"field": "s"}}},
            {"data": {"values": [{"mz": 672, "i": 70.8, "s": "467.1 [M+H]⁺"}]}, "mark": {"type": "text", "align": "left", "baseline": "middle", "fontSize": 10},
             "encoding": {"x": {"field": "mz", "type": "quantitative"}, "y": {"field": "i", "type": "quantitative"}, "text": {"field": "s"}}},
            {"data": {"values": [{"mz": 756, "i": 56.6, "s": "MS peak 3"}]}, "mark": {"type": "text", "align": "center", "baseline": "middle", "fontSize": 10},
             "encoding": {"x": {"field": "mz", "type": "quantitative"}, "y": {"field": "i", "type": "quantitative"}, "text": {"field": "s"}}},
            {"data": {"values": [{"mz": 935, "i": 97, "s": "Max: 19934"}]}, "mark": {"type": "text", "align": "center", "baseline": "middle", "fontSize": 4, "color": "#555"},
             "encoding": {"x": {"field": "mz", "type": "quantitative"}, "y": {"field": "i", "type": "quantitative"}, "text": {"field": "s"}}}
          ]
        },
        {
          "width": 143, "height": 110,
          "layer": [
            {"data": {"name": "C4"}, "mark": {"type": "rule", "color": "#888", "strokeWidth": 0.8, "clip": true},
             "encoding": {
               "x": {"field": "mz", "type": "quantitative", "scale": {"domain": [440, 1000], "nice": false, "zero": false},
                     "axis": {"title": null, "tickCount": 400, "labelOverlap": false, "values": [450,500,550,600,650,700,750,800,850,900,950,1000], "labelExpr": "datum.value === 1000 ? 'm/z' : (datum.value % 100 === 0 ? '' + datum.value : '')", "tickSize": {"condition": {"test": "datum.value % 100 === 0", "value": 3}, "value": 1.5}}},
               "y": {"field": "i", "type": "quantitative", "scale": {"domain": [-2.8, 100.9], "nice": false, "zero": false},
                     "axis": {"title": null, "tickCount": 400, "labelOverlap": false, "values": [0,4,8,12,16,20,24,28,32,36,40,44,48,52,56,60,64,68,72,76,80,84,88,92,96,100], "labelExpr": "datum.value % 20 === 0 ? '' + datum.value : ''", "tickSize": {"condition": {"test": "datum.value % 20 === 0", "value": 3}, "value": 1.5}}},
               "y2": {"datum": 0}
             }},
            {"data": {"values": [{"mz": 481.2, "i": 92, "s": "481.2"}, {"mz": 481.2, "i": 38, "s": "482.2"}, {"mz": 481.2, "i": 8, "s": "483.2"}, {"mz": 977.4, "i": 17, "s": "977.4"}]}, "mark": {"type": "text", "angle": 270, "align": "left", "baseline": "middle", "fontSize": 4.5, "color": "#555"},
             "encoding": {"x": {"field": "mz", "type": "quantitative"}, "y": {"field": "i", "type": "quantitative"}, "text": {"field": "s"}}},
            {"data": {"values": [{"mz": 547, "i": 76.4, "s": "⬅"}]}, "mark": {"type": "text", "align": "center", "baseline": "middle", "fontSize": 11, "font": "DejaVu Sans"},
             "encoding": {"x": {"field": "mz", "type": "quantitative"}, "y": {"field": "i", "type": "quantitative"}, "text": {"field": "s"}}},
            {"data": {"values": [{"mz": 581, "i": 76.4, "s": "m/z"}]}, "mark": {"type": "text", "align": "left", "baseline": "middle", "fontSize": 10, "fontStyle": "italic"},
             "encoding": {"x": {"field": "mz", "type": "quantitative"}, "y": {"field": "i", "type": "quantitative"}, "text": {"field": "s"}}},
            {"data": {"values": [{"mz": 657, "i": 76.4, "s": "481.2 [M+H]⁺"}]}, "mark": {"type": "text", "align": "left", "baseline": "middle", "fontSize": 10},
             "encoding": {"x": {"field": "mz", "type": "quantitative"}, "y": {"field": "i", "type": "quantitative"}, "text": {"field": "s"}}},
            {"data": {"values": [{"mz": 741, "i": 62.3, "s": "MS peak 4"}]}, "mark": {"type": "text", "align": "center", "baseline": "middle", "fontSize": 10},
             "encoding": {"x": {"field": "mz", "type": "quantitative"}, "y": {"field": "i", "type": "quantitative"}, "text": {"field": "s"}}},
            {"data": {"values": [{"mz": 912, "i": 97, "s": "Max: 30049"}]}, "mark": {"type": "text", "align": "center", "baseline": "middle", "fontSize": 4, "color": "#555"},
             "encoding": {"x": {"field": "mz", "type": "quantitative"}, "y": {"field": "i", "type": "quantitative"}, "text": {"field": "s"}}}
          ]
        }
      ]
    }
  ]
}
